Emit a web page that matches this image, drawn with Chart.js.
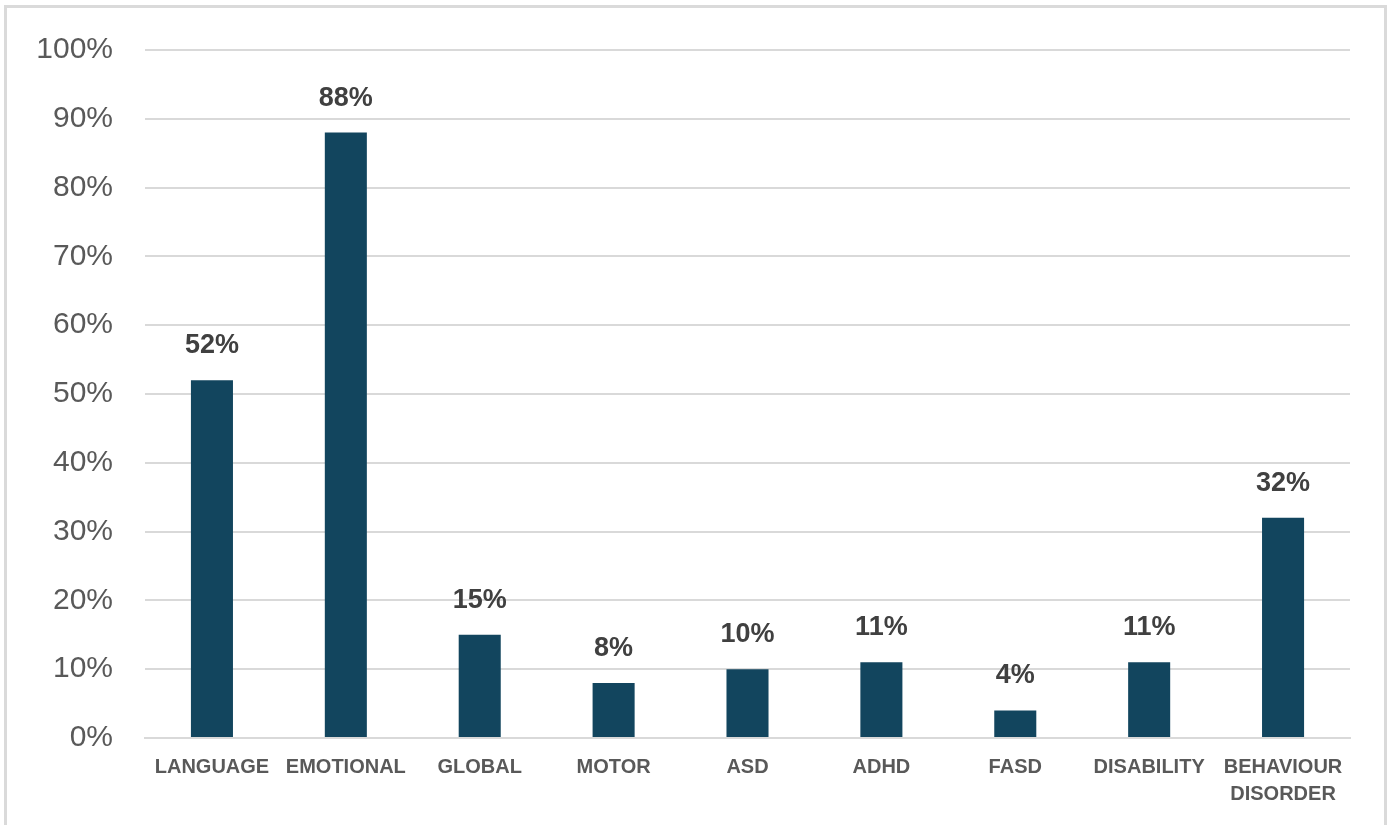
<!DOCTYPE html>
<html>
<head>
<meta charset="utf-8">
<script src="https://cdn.jsdelivr.net/npm/chart.js@4"></script>
<style>
  html, body { margin: 0; padding: 0; background: #fff; }
  #frame {
    position: absolute; left: 4px; top: 5px;
    width: 1383px; height: 830px;
    border: 3px solid #dadada;
    box-sizing: border-box;
  }
  #wrap { position: absolute; left: 0; top: 0; width: 1400px; height: 825px; }
</style>
</head>
<body>
<div id="frame"></div>
<div id="wrap"><canvas id="chart" width="1400" height="825"></canvas></div>
<script>
const categories = ['LANGUAGE', 'EMOTIONAL', 'GLOBAL', 'MOTOR', 'ASD', 'ADHD', 'FASD', 'DISABILITY', ['BEHAVIOUR', 'DISORDER']];
const percentages = [52, 88, 15, 8, 10, 11, 4, 11, 32];
const yTicks = [0, 10, 20, 30, 40, 50, 60, 70, 80, 90, 100];

// value labels above each bar
const barLabels = {
  id: 'barLabels',
  afterDatasetsDraw(chart) {
    const ctx = chart.ctx;
    const meta = chart.getDatasetMeta(0);
    ctx.save();
    ctx.font = 'bold 27px "Liberation Sans", Arial, sans-serif';
    ctx.fillStyle = '#404040';
    ctx.textAlign = 'center';
    ctx.textBaseline = 'alphabetic';
    meta.data.forEach((bar, i) => {
      ctx.fillText(percentages[i] + '%', bar.x, bar.y - 27);
    });
    ctx.restore();
  }
};

new Chart(document.getElementById('chart'), {
  type: 'bar',
  data: {
    labels: categories,
    datasets: [{
      data: percentages,
      backgroundColor: '#12455e',
      borderWidth: 0,
      categoryPercentage: 1,
      barPercentage: 0.314
    }]
  },
  options: {
    responsive: false,
    animation: false,
    layout: { padding: { top: 49, right: 50, left: 0, bottom: 0 } },
    plugins: { legend: { display: false }, tooltip: { enabled: false } },
    scales: {
      x: {
        grid: { display: false, drawTicks: false },
        border: { display: true, color: '#d9d9d9', width: 2 },
        ticks: {
          color: '#595959',
          font: { family: '"Liberation Sans", Arial, sans-serif', size: 20, weight: 'bold', lineHeight: 1.35 },
          padding: 16,
          maxRotation: 0,
          autoSkip: false
        },
        afterFit: scale => { scale.height = 87; }
      },
      y: {
        min: 0,
        max: 100,
        afterBuildTicks: scale => { scale.ticks = yTicks.map(v => ({ value: v })); },
        grid: { color: '#d9d9d9', lineWidth: 2, drawTicks: false },
        border: { display: false },
        ticks: {
          color: '#595959',
          font: { family: '"Liberation Sans", Arial, sans-serif', size: 30 },
          padding: 32,
          callback: v => v + '%'
        },
        afterFit: scale => { scale.width = 145; }
      }
    }
  },
  plugins: [barLabels]
});
</script>
</body>
</html>
